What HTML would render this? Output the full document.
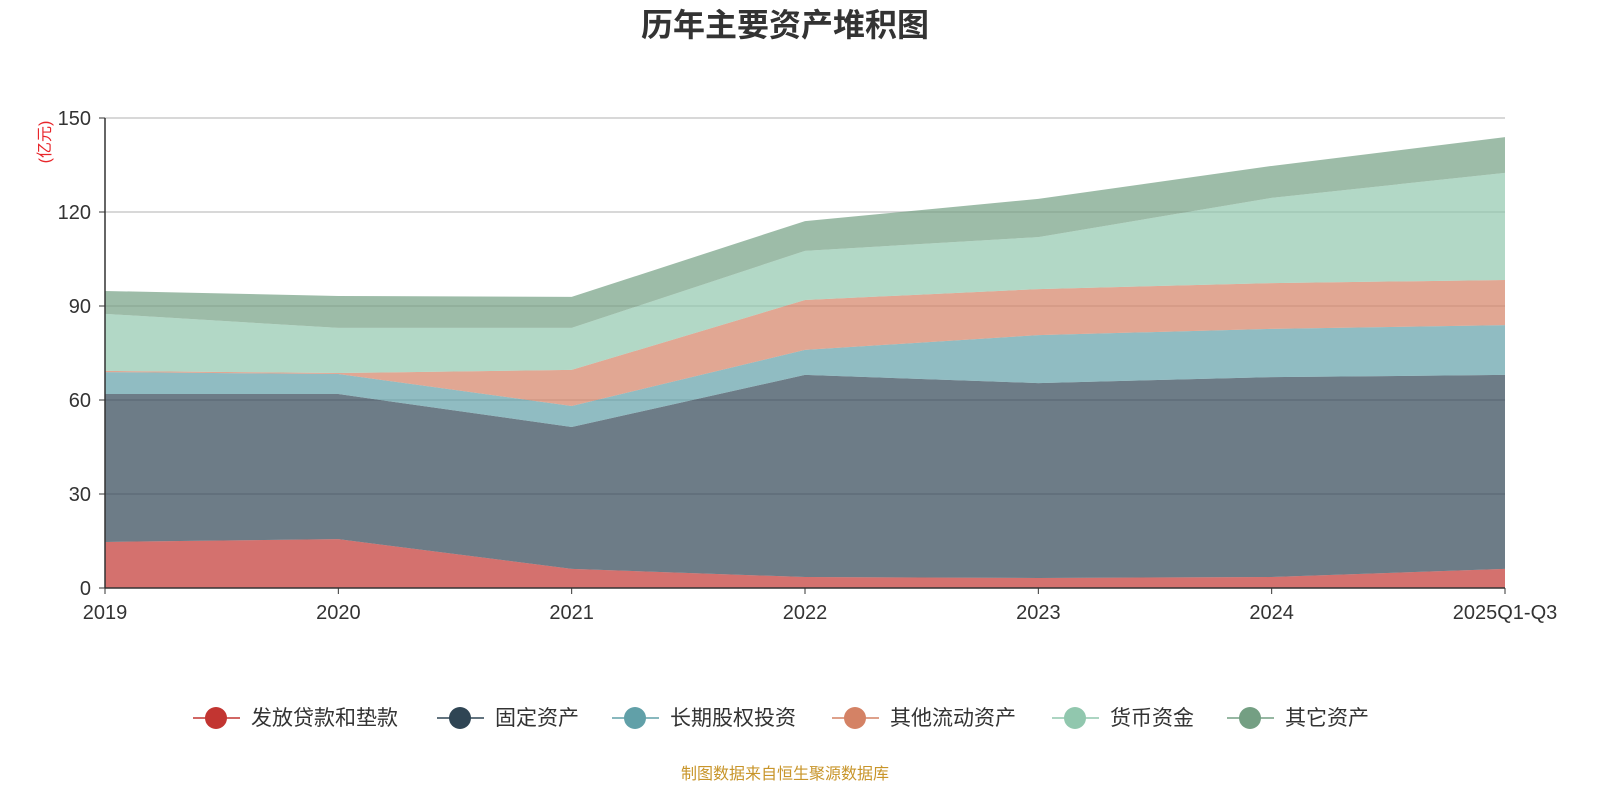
<!DOCTYPE html>
<html><head><meta charset="utf-8">
<style>
html,body{margin:0;padding:0;background:#fff;}
svg{display:block;font-family:"Liberation Sans","Noto Sans CJK SC",sans-serif;}
</style></head>
<body>
<svg id="chart" width="1600" height="800">
<text x="785" y="36" text-anchor="middle" font-size="32" font-weight="bold" fill="#333">历年主要资产堆积图</text>
<text transform="translate(50,142) rotate(-90)" text-anchor="middle" font-size="16" fill="#e8262b">(亿元)</text>
<g id="grid"></g>
<g id="areas"></g>
<g id="axes"></g>
<g id="legend"></g>
<text x="785" y="779" text-anchor="middle" font-size="16" fill="#c8952a">制图数据来自恒生聚源数据库</text>
</svg>
<script>
const categories=["2019","2020","2021","2022","2023","2024","2025Q1-Q3"];
const seriesNames=["发放贷款和垫款","固定资产","长期股权投资","其他流动资产","货币资金","其它资产"];
const loans=[14.7,15.6,6.1,3.5,3.2,3.5,6.1];
const fixedAssets=[47.2,46.3,45.3,64.5,62.2,63.8,61.9];
const equityInv=[7.0,6.4,6.7,8.0,15.3,15.4,15.9];
const otherCurrent=[0.4,0.3,11.5,15.9,14.7,14.6,14.4];
const cash=[18.2,14.4,13.4,15.7,16.6,27.2,34.2];
const otherAssets=[7.3,10.2,9.9,9.5,12.2,10.2,11.4];
const yTicks=[0,30,60,90,120,150];
const colors=["#c23531","#2f4554","#61a0a8","#d48265","#91c7ae","#749f83"];
const series=[loans,fixedAssets,equityInv,otherCurrent,cash,otherAssets];
const NS="http://www.w3.org/2000/svg";
const x0=105,x1=1505,y0=588,yTop=118,yMax=150;
const xs=i=>x0+(x1-x0)*i/(categories.length-1);
const ys=v=>y0-(y0-yTop)*v/yMax;
function mk(t,a,p){const e=document.createElementNS(NS,t);for(const k in a)e.setAttribute(k,a[k]);p.appendChild(e);return e;}
const grid=document.getElementById('grid'),areas=document.getElementById('areas'),axes=document.getElementById('axes'),legend=document.getElementById('legend');
yTicks.forEach(v=>{
  if(v>0){const l=mk('line',{x1:x0,x2:x1,y1:ys(v),y2:ys(v),stroke:'#ccc','stroke-width':1.5},grid);
  
  }
  const t=mk('text',{x:x0-14,y:ys(v)+7,'text-anchor':'end','font-size':20,fill:'#333'},axes);t.textContent=v;
  
  
  mk('line',{x1:x0-6,x2:x0,y1:ys(v),y2:ys(v),stroke:'#333'},axes);
});
let base=categories.map(()=>0);
series.forEach((s,k)=>{
  const top=base.map((b,i)=>b+s[i]);
  let d='M'+top.map((v,i)=>xs(i)+','+ys(v)).join('L');
  for(let i=categories.length-1;i>=0;i--)d+='L'+xs(i)+','+ys(base[i]);
  const p=mk('path',{d:d+'Z',fill:colors[k],'fill-opacity':0.7},areas);
  
  
  base=top;
});
mk('line',{x1:x0,x2:x0,y1:yTop,y2:y0,stroke:'#333','stroke-width':1.5},axes);
mk('line',{x1:x0,x2:x1,y1:y0,y2:y0,stroke:'#333','stroke-width':1.5},axes);
categories.forEach((c,i)=>{
  mk('line',{x1:xs(i),x2:xs(i),y1:y0,y2:y0+6,stroke:'#333'},axes);
  const t=mk('text',{x:xs(i),y:y0+31,'text-anchor':'middle','font-size':20,fill:'#333'},axes);t.textContent=c;
  
  
});
const lx=[216,460,635,855,1075,1250];
seriesNames.forEach((n,k)=>{
  const g=mk('g',{},legend);
  
  
  mk('line',{x1:lx[k]-23,x2:lx[k]+24,y1:718,y2:718,stroke:colors[k],'stroke-width':1.5},g);
  mk('circle',{cx:lx[k],cy:718,r:11,fill:colors[k]},g);
  const t=mk('text',{x:lx[k]+35,y:725,'font-size':21,fill:'#333'},g);t.textContent=n;
});
</script>
</body></html>
